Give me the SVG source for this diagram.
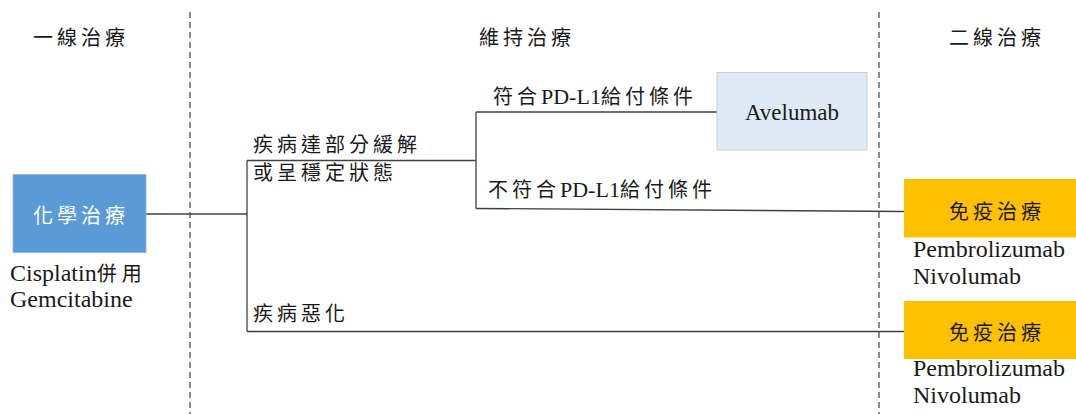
<svg xmlns="http://www.w3.org/2000/svg" width="1076" height="414" viewBox="0 0 1076 414">
<style>
.cjk{font-family:"Liberation Serif","Times New Roman","DejaVu Serif","Noto Sans CJK TC",serif;font-size:20px;letter-spacing:4px;fill:#1a1a1a}
.lat{font-family:"Liberation Serif","Times New Roman","DejaVu Serif","Noto Sans CJK TC",serif;font-size:24px;fill:#1a1a1a}
.hdr{font-family:"Liberation Serif","Times New Roman","DejaVu Serif","Noto Sans CJK TC",serif;font-size:20px;letter-spacing:4px;fill:#1a1a1a;text-anchor:middle}
.conn{stroke:#404040;stroke-width:1.3;fill:none}
.dash{stroke:#404040;stroke-width:1.2;stroke-dasharray:6 4;fill:none}
</style>
<g id="columns">
<line class="dash" x1="190" y1="12" x2="190" y2="414"/>
<line class="dash" x1="879" y1="12" x2="879" y2="414"/>
<text class="hdr" x="81" y="45">一線治療</text>
<text class="hdr" x="527" y="45">維持治療</text>
<text class="hdr" x="997" y="45">二線治療</text>
</g>
<g id="connectors">
<line class="conn" x1="146" y1="214" x2="247" y2="214"/>
<line class="conn" x1="247" y1="160.5" x2="247" y2="331.5"/>
<line class="conn" x1="247" y1="160.5" x2="476" y2="160.5"/>
<line class="conn" x1="247" y1="331.5" x2="904" y2="331.5"/>
<line class="conn" x1="476" y1="112" x2="476" y2="208.5"/>
<line class="conn" x1="476" y1="112" x2="717" y2="112"/>
<line class="conn" x1="476" y1="208.5" x2="904" y2="211.5"/>
</g>
<g id="labels">
<text class="cjk" x="253" y="152">疾病達部分緩解</text>
<text class="cjk" x="253" y="180">或呈穩定狀態</text>
<text class="cjk" x="493" y="104">符合<tspan style="letter-spacing:0;font-size:22px">PD-L1</tspan>給付條件</text>
<text class="cjk" x="488" y="197">不符合<tspan style="letter-spacing:0;font-size:22px">PD-L1</tspan>給付條件</text>
<text class="cjk" x="253" y="321">疾病惡化</text>
</g>
<g id="chemo">
<rect x="13" y="174.5" width="133" height="78" fill="#5B9BD5" stroke="#8EB4E3" stroke-width="0.8"/>
<text class="hdr" x="81" y="223" style="fill:#ffffff">化學治療</text>
<text class="lat" x="10" y="281">Cisplatin<tspan style="font-size:20px;letter-spacing:5px">併用</tspan></text>
<text class="lat" x="10" y="307">Gemcitabine</text>
</g>
<g id="avelumab">
<rect x="717" y="72.5" width="150" height="77.5" fill="#DEEBF7" stroke="#C9C9C9" stroke-width="0.8"/>
<text class="lat" x="792" y="120" text-anchor="middle" style="font-size:23px">Avelumab</text>
</g>
<g id="immuno1">
<rect x="904" y="179" width="180" height="58.5" fill="#FFC000"/>
<text class="hdr" x="997" y="219">免疫治療</text>
<text class="lat" x="913" y="257">Pembrolizumab</text>
<text class="lat" x="913" y="284">Nivolumab</text>
</g>
<g id="immuno2">
<rect x="904" y="301" width="180" height="58" fill="#FFC000"/>
<text class="hdr" x="997" y="340">免疫治療</text>
<text class="lat" x="913" y="376">Pembrolizumab</text>
<text class="lat" x="913" y="403">Nivolumab</text>
</g>
</svg>
